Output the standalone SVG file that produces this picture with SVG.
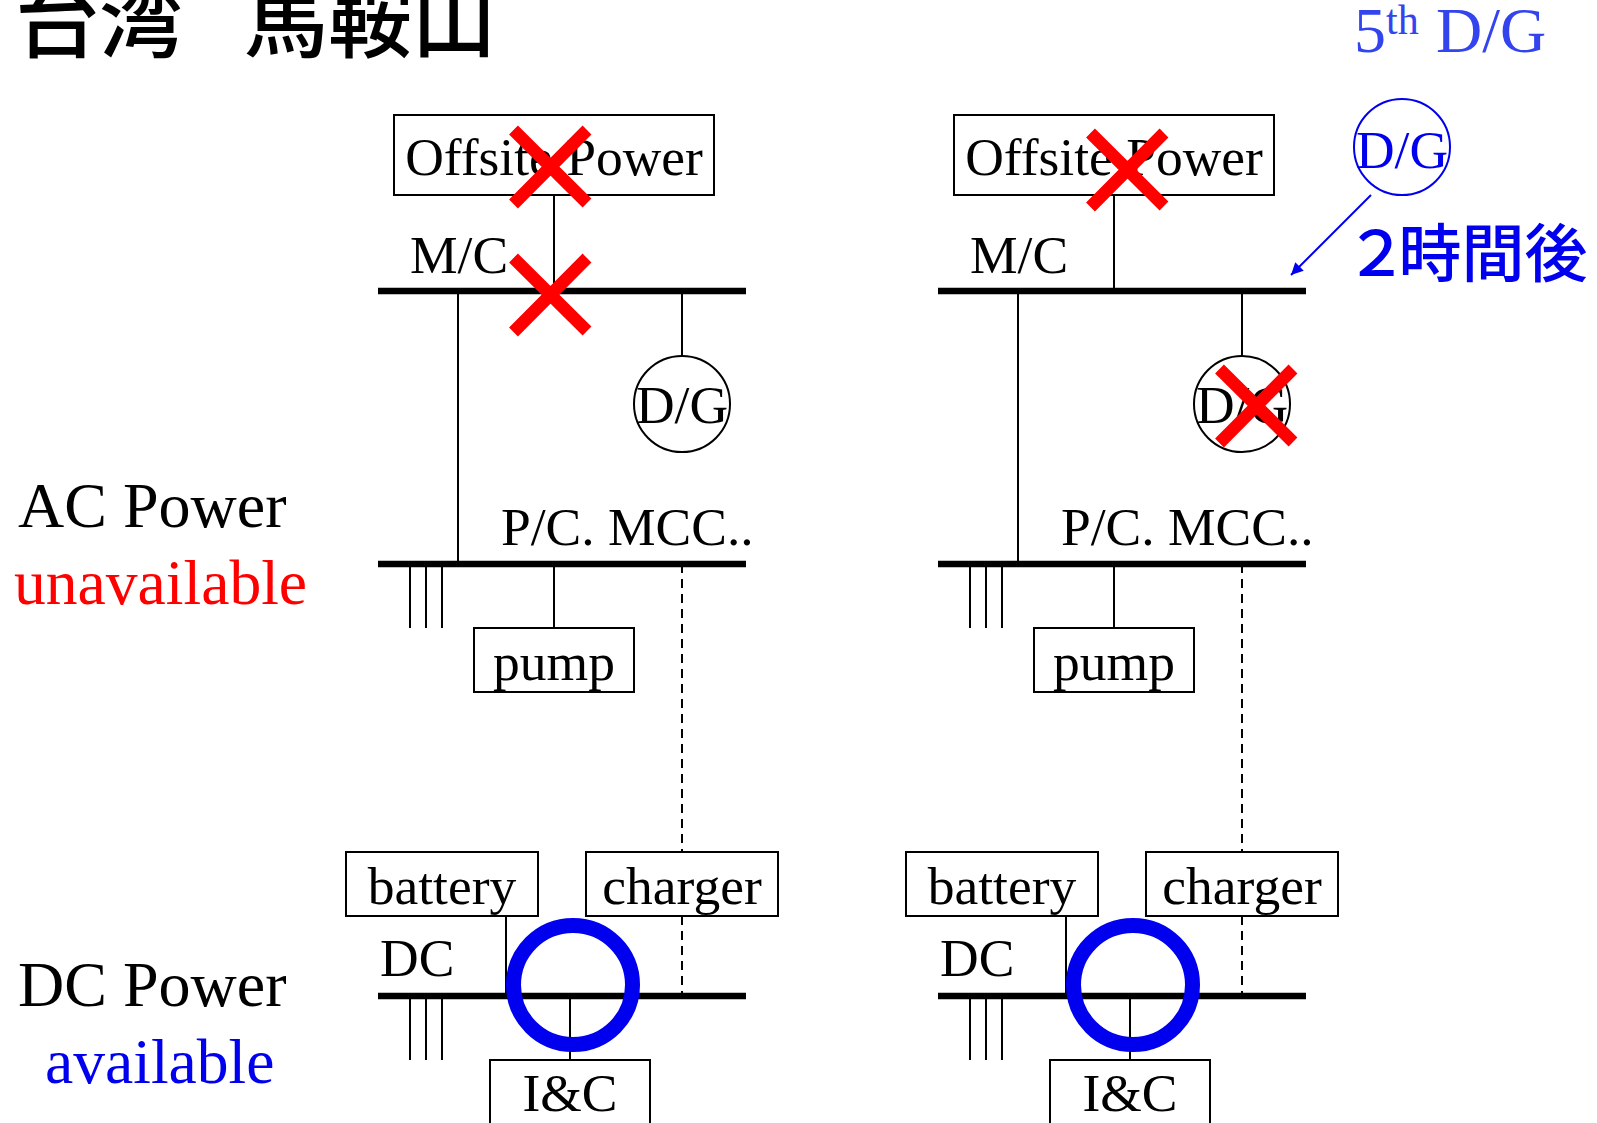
<svg xmlns="http://www.w3.org/2000/svg" width="1597" height="1123" viewBox="0 0 1597 1123">
<style>
text{font-family:"Liberation Serif","Noto Sans CJK JP",serif;fill:#000}
.t{font-size:53.500px}
.b{font-size:63.600px}
.m{text-anchor:middle}
.cjk{font-family:"Noto Sans CJK JP","Liberation Sans",sans-serif;font-weight:500}
.box{fill:#fff;stroke:#000;stroke-width:2}
.circ{fill:none;stroke:#000;stroke-width:2}
.w{fill:none;stroke:#000;stroke-width:2}
.d{fill:none;stroke:#000;stroke-width:2;stroke-dasharray:9 6}
.bus{fill:none;stroke:#000;stroke-width:6.500}
.x{fill:none;stroke:#f00;stroke-width:12.500}
.ring{fill:none;stroke:#00e;stroke-width:15}
</style>
<defs>
<marker id="ah" viewBox="0 0 10 10" refX="10" refY="5" markerWidth="18" markerHeight="12" markerUnits="userSpaceOnUse" orient="auto"><path d="M0 0L10 5L0 10Z" fill="#00e"/></marker>
<g id="xm"><path class="x" d="M-36.500 -37L37 36M37 -37L-36.500 37"/></g>
</defs>
<g id="title"><text class="cjk" x="15" y="51" font-size="84">台湾</text><text class="cjk" x="244" y="51" font-size="84">馬鞍山</text></g>
<g id="labels">
<text x="18" y="527" font-size="64">AC Power</text>
<text class="b" x="14" y="604" style="fill:#f00">unavailable</text>
<text x="18" y="1006" font-size="64">DC Power</text>
<text class="b" x="45" y="1083" style="fill:#00e">available</text>
<text x="1354" y="52" font-size="64" style="fill:#3344ee">5<tspan font-size="42" dy="-18">th</tspan><tspan x="1436" dy="18">D/G</tspan></text>
<text class="cjk" y="276" font-size="63" style="fill:#00e" x="1345 1398.500 1461.500 1524.500">２時間後</text>
</g>
<g id="connectors">
<path class="w" d="M554 195V291M458 291V564M682 291V355M554 564V628M410 564V628M426 564V628M442 564V628M506 916V996M570 996V1060M410 996V1060M426 996V1060M442 996V1060"/>
<path class="d" d="M682 564V852M682 916V996"/>
<path class="bus" d="M378 291H746M378 564H746M378 996H746"/>
<path class="w" d="M1114 195V291M1018 291V564M1242 291V355M1114 564V628M970 564V628M986 564V628M1002 564V628M1066 916V996M1130 996V1060M970 996V1060M986 996V1060M1002 996V1060"/>
<path class="d" d="M1242 564V852M1242 916V996"/>
<path class="bus" d="M938 291H1306M938 564H1306M938 996H1306"/>
<path d="M1371 195L1291 275" fill="none" stroke="#00e" stroke-width="2" marker-end="url(#ah)"/>
</g>
<g id="left-offsite"><rect class="box" x="394" y="115" width="320" height="80"/><text class="t m" x="554" y="175">Offsite Power</text></g>
<g id="left-mc"><text class="t" x="410" y="273">M/C</text></g>
<g id="left-dg"><circle class="circ" cx="682" cy="404" r="48"/><text class="t m" x="682" y="423">D/G</text></g>
<g id="left-pc"><text class="t" x="501" y="545">P/C. MCC..</text></g>
<g id="left-pump"><rect class="box" x="474" y="628" width="160" height="64"/><text class="t m" x="554" y="680">pump</text></g>
<g id="left-battery"><rect class="box" x="346" y="852" width="192" height="64"/><text class="t m" x="442" y="904">battery</text></g>
<g id="left-charger"><rect class="box" x="586" y="852" width="192" height="64"/><text class="t m" x="682" y="904">charger</text></g>
<g id="left-dc"><text class="t" x="380" y="976">DC</text></g>
<g id="left-ic"><rect class="box" x="490" y="1060" width="160" height="64"/><text class="t m" x="570" y="1111">I&amp;C</text></g>
<g id="right-offsite"><rect class="box" x="954" y="115" width="320" height="80"/><text class="t m" x="1114" y="175">Offsite Power</text></g>
<g id="right-mc"><text class="t" x="970" y="273">M/C</text></g>
<g id="right-dg"><circle class="circ" cx="1242" cy="404" r="48"/><text class="t m" x="1242" y="423">D/G</text></g>
<g id="right-pc"><text class="t" x="1061" y="545">P/C. MCC..</text></g>
<g id="right-pump"><rect class="box" x="1034" y="628" width="160" height="64"/><text class="t m" x="1114" y="680">pump</text></g>
<g id="right-battery"><rect class="box" x="906" y="852" width="192" height="64"/><text class="t m" x="1002" y="904">battery</text></g>
<g id="right-charger"><rect class="box" x="1146" y="852" width="192" height="64"/><text class="t m" x="1242" y="904">charger</text></g>
<g id="right-dc"><text class="t" x="940" y="976">DC</text></g>
<g id="right-ic"><rect class="box" x="1050" y="1060" width="160" height="64"/><text class="t m" x="1130" y="1111">I&amp;C</text></g>
<g id="fifth-dg"><circle cx="1402" cy="147" r="48" fill="none" stroke="#00e" stroke-width="2"/><text class="t m" x="1402" y="168" style="fill:#00e">D/G</text></g>
<g id="marks">
<use href="#xm" x="550" y="167"/><use href="#xm" x="550" y="295"/><use href="#xm" x="1127" y="170"/><use href="#xm" x="1256" y="406"/>
<circle class="ring" cx="573" cy="985" r="59.500"/><circle class="ring" cx="1133" cy="985" r="59.500"/>
</g>
</svg>
